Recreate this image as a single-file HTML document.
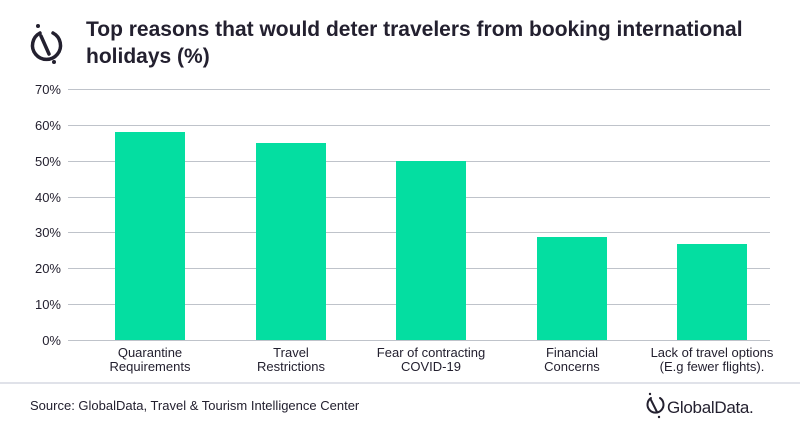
<!DOCTYPE html>
<html><head><meta charset="utf-8"><style>
body{margin:0;width:800px;height:428px;background:#fff;overflow:hidden;font-family:"Liberation Sans",sans-serif}
</style></head><body>
<svg width="800" height="428" xmlns="http://www.w3.org/2000/svg" font-family="Liberation Sans, sans-serif">
<g fill="none" stroke="#23202f" stroke-width="3.5" stroke-linecap="round">
<path d="M40 33 A14 14 0 1 0 53 33"/>
<line x1="41" y1="36" x2="49" y2="54"/>
</g>
<circle cx="38" cy="26" r="2" fill="#23202f"/><circle cx="54" cy="62" r="2" fill="#23202f"/>
<g font-size="21" font-weight="bold" fill="#23202f">
<text x="86" y="36">Top reasons that would deter travelers from booking international</text>
<text x="86" y="63">holidays (%)</text>
</g>
<g stroke="#bfc3ca" stroke-width="1">
<line x1="68" y1="89.5" x2="770" y2="89.5"/><line x1="68" y1="125.5" x2="770" y2="125.5"/>
<line x1="68" y1="161.5" x2="770" y2="161.5"/><line x1="68" y1="197.5" x2="770" y2="197.5"/>
<line x1="68" y1="232.5" x2="770" y2="232.5"/><line x1="68" y1="268.5" x2="770" y2="268.5"/>
<line x1="68" y1="304.5" x2="770" y2="304.5"/><line x1="68" y1="340.5" x2="770" y2="340.5"/>
</g>
<g font-size="13" fill="#23202f" text-anchor="end">
<text x="61" y="94">70%</text><text x="61" y="130">60%</text><text x="61" y="166">50%</text>
<text x="61" y="202">40%</text><text x="61" y="237">30%</text><text x="61" y="273">20%</text>
<text x="61" y="309">10%</text><text x="61" y="345">0%</text>
</g>
<g fill="#04dea1">
<rect x="115" y="132" width="70" height="208"/>
<rect x="256" y="143" width="70" height="197"/>
<rect x="396" y="161" width="70" height="179"/>
<rect x="537" y="237" width="70" height="103"/>
<rect x="677" y="244" width="70" height="96"/>
</g>
<g font-size="13" fill="#23202f" text-anchor="middle">
<text x="150" y="357">Quarantine</text><text x="150" y="371">Requirements</text>
<text x="291" y="357">Travel</text><text x="291" y="371">Restrictions</text>
<text x="431" y="357">Fear of contracting</text><text x="431" y="371">COVID-19</text>
<text x="572" y="357">Financial</text><text x="572" y="371">Concerns</text>
<text x="712" y="357">Lack of travel options</text><text x="712" y="371">(E.g fewer flights).</text>
</g>
<line x1="0" y1="383" x2="800" y2="383" stroke="#d5d9e2" stroke-width="1.5"/>
<text x="30" y="410" font-size="13" fill="#23202f">Source: GlobalData, Travel &amp; Tourism Intelligence Center</text>
<g fill="none" stroke="#23202f" stroke-width="2" stroke-linecap="round">
<path d="M651 398 A8 8 0 1 0 660 398"/><line x1="651" y1="400" x2="657" y2="412"/>
</g>
<circle cx="650" cy="394" r="1.2" fill="#23202f"/><circle cx="659" cy="417" r="1.2" fill="#23202f"/>
<text x="667" y="413" font-size="17" fill="#23202f" letter-spacing="-0.3">GlobalData.</text>
</svg>
</body></html>
